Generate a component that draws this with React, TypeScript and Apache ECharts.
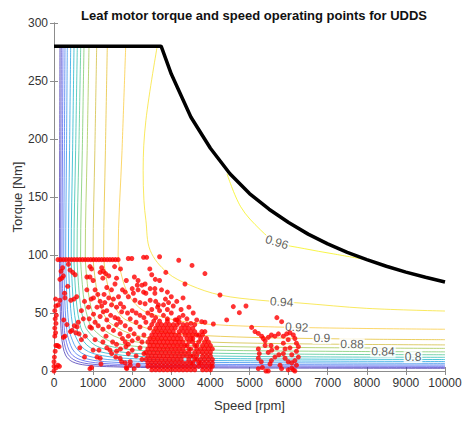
import React, { useEffect, useRef } from "react";
import * as echarts from "echarts";

// Axis ranges and ticks
const speedMax = 10000;
const speedStep = 1000;
const torqueMax = 300;
const torqueStep = 50;

// Peak torque / constant power envelope [rpm, Nm]
const envelope = [
  [0, 280], [2740, 280], [3000, 256], [3500, 219], [4000, 192], [4500, 170],
  [5000, 153], [5500, 139.5], [6000, 128], [6500, 118], [7000, 109.6],
  [7500, 102.3], [8000, 96], [8500, 90.3], [9000, 85.2], [9500, 80.8], [10000, 76.7],
];

// Efficiency iso-lines [rpm, Nm]
const eff96 = [[4425, 170], [4775, 141.6], [5285, 121.5], [5700, 111], [6400, 105.5], [7140, 101], [7900, 96.5]];
const eff94 = [[2640, 280], [2350, 216], [2280, 173], [2300, 147], [2350, 130], [2460, 104], [2890, 85], [3480, 74], [4250, 65.5], [5270, 61], [6290, 58.6], [8000, 54], [10000, 51.7]];
const eff92 = [[1834, 280], [1740, 190], [1640, 100], [1745, 80.2], [1886, 67.1], [2098, 57.2], [2378, 50.6], [3444, 42.0], [5494, 38.1], [10000, 36]];
const eff90 = [[1363, 280], [1315, 190], [1270, 100], [1351, 77.6], [1460, 62.7], [1624, 51.5], [1842, 44.1], [2667, 34.4], [4254, 29.9], [7430, 27.65], [10000, 27]];
const eff88 = [[1092, 280], [1045, 190], [1000, 100], [1064, 76.4], [1150, 60.6], [1279, 48.8], [1450, 40.9], [2100, 30.7], [3350, 25.9], [5850, 23.6], [10000, 22.5]];
const eff86 = [[895, 280], [848, 190], [800, 100], [851, 75.5], [920, 59.2], [1023, 47.0], [1160, 38.8], [1680, 28.2], [2680, 23.3], [4680, 20.9], [8680, 19.7], [10000, 19.5]];
const eff84 = [[767, 280], [724, 190], [680, 100], [724, 74.7], [782, 57.8], [870, 45.1], [986, 36.7], [1428, 25.7], [2278, 20.7], [3978, 18.1], [7378, 16.9], [10000, 16.5]];
const eff82 = [[683, 280], [636, 190], [590, 100], [628, 74.0], [678, 56.6], [755, 43.6], [856, 34.9], [1239, 23.6], [1977, 18.4], [3452, 15.8], [6402, 14.5], [10000, 14]];
const eff80 = [[596, 280], [553, 190], [510, 100], [543, 73.3], [587, 55.5], [652, 42.2], [740, 33.3], [1071, 21.8], [1709, 16.4], [2984, 13.8], [5534, 12.4], [10000, 11.8]];
const eff78 = [[512, 280], [476, 190], [440, 100], [468, 72.8], [506, 54.6], [563, 41.0], [638, 32.0], [924, 20.2], [1474, 14.7], [2574, 12.0], [4774, 10.6], [10000, 9.9]];
const eff76 = [[427, 280], [398, 190], [370, 100], [394, 72.3], [426, 53.8], [473, 40.0], [537, 30.8], [777, 18.8], [1240, 13.2], [2165, 10.4], [4015, 9.05], [10000, 8.2]];
const eff74 = [[340, 280], [320, 190], [300, 100], [319, 71.9], [345, 53.1], [384, 39.0], [435, 29.6], [630, 17.4], [1005, 11.8], [1755, 9.0], [3255, 7.6], [10000, 6.6]];
const eff72 = [[281, 280], [265, 190], [250, 100], [266, 71.5], [287, 52.4], [320, 38.1], [362, 28.6], [525, 16.3], [837, 10.5], [1462, 7.7], [2712, 6.3], [5212, 5.55], [10000, 5.2]];
const eff70 = [[230, 280], [217, 190], [205, 100], [218, 71.1], [236, 51.9], [262, 37.5], [297, 27.9], [430, 15.3], [687, 9.6], [1199, 6.7], [2224, 5.2], [4274, 4.5], [10000, 4.1]];
const eff68 = [[187, 280], [178, 190], [170, 100], [181, 70.9], [195, 51.4], [217, 36.9], [246, 27.1], [357, 14.5], [570, 8.7], [995, 5.8], [1845, 4.3], [3545, 3.6], [10000, 3.1]];
const eff66 = [[153, 280], [146, 190], [140, 100], [149, 70.6], [161, 51.0], [179, 36.4], [203, 26.6], [294, 13.8], [469, 8.0], [819, 5.0], [1519, 3.6], [2919, 2.8], [10000, 2.3]];

const effLevels = [0.96, 0.94, 0.92, 0.9, 0.88, 0.86, 0.84, 0.82, 0.8, 0.78, 0.76, 0.74, 0.72, 0.7, 0.68, 0.66];
const effLines = [eff96, eff94, eff92, eff90, eff88, eff86, eff84, eff82, eff80, eff78, eff76, eff74, eff72, eff70, eff68, eff66];

// In-line level labels: [rpm, Nm, text, rotation]
const effLabels: [number, number, string, number][] = [
  [5700, 111, "0.96", -18],
  [5823, 59.5, "0.94", -3],
  [6207, 37.7, "0.92", -2],
  [6854, 28.4, "0.9", -1],
  [7620, 23.2, "0.88", -1],
  [8414, 16.8, "0.84", -1],
  [9182, 12.0, "0.8", 0],
];

// UDDS operating points [rpm, Nm]
const opsRow = [
  [100, 96], [170, 96], [240, 96], [310, 96], [380, 96], [450, 96], [520, 96], [590, 96], [660, 96],
  [730, 96], [800, 96], [870, 96], [940, 96], [1010, 96], [1080, 96], [1150, 96], [1220, 96],
  [1290, 96], [1360, 96], [1430, 96], [1500, 96], [1570, 96], [1640, 96], [1900, 97], [1990, 97],
  [2290, 98], [2370, 98], [2700, 98.5],
];
const opsLowSpeed = [
  [0, 0], [0, 4], [0, 8], [10, 12], [30, 17], [50, 22], [90, 22], [130, 21], [20, 30], [40, 33],
  [20, 37], [50, 41], [30, 45], [60, 48], [20, 52], [50, 56], [110, 57], [150, 61], [40, 62],
  [280, 63], [270, 67], [150, 79], [200, 80], [240, 82], [180, 86], [220, 89], [370, 92], [410, 87],
  [480, 85], [540, 83], [250, 44], [240, 29], [280, 30], [420, 34], [460, 35], [520, 39], [590, 38],
  [60, 3], [100, 5], [140, 4], [430, 61], [510, 62], [580, 64], [640, 32], [620, 42], [560, 33],
  [700, 27], [660, 20], [330, 40], [350, 73],
];
const opsMid = [
  [750, 45], [840, 81], [920, 81], [920, 90], [960, 88], [800, 30], [880, 55], [950, 62], [1010, 63],
  [1180, 85], [1260, 86], [1220, 89], [1350, 72], [1470, 70], [1560, 75], [1180, 60], [1300, 59],
  [1470, 57], [1730, 51], [1010, 49], [1180, 47], [920, 38], [960, 37], [1130, 39], [1350, 44],
  [1520, 35], [1690, 32], [1820, 39], [1820, 25], [1840, 21], [1430, 18], [1475, 15], [1100, 12],
  [1180, 11], [1690, 11], [1730, 8], [1820, 7], [1600, 23], [1250, 25], [1900, 15], [1950, 5],
  [1860, 2], [1200, 6], [960, 3], [920, 2], [780, 12], [1650, 64], [1750, 70], [1850, 78], [1640, 45],
  [1400, 82], [1550, 90], [1700, 88], [2055, 81], [2150, 78], [2130, 74], [2250, 74], [2330, 75],
  [2000, 71], [2030, 67], [2150, 70], [2290, 68], [2350, 67], [1820, 68], [1900, 64], [2070, 61],
  [2200, 59], [2330, 58], [1050, 27], [1330, 30], [1580, 12], [1260, 51], [1000, 18],
  [1850, 3], [1950, 8], [2050, 2], [2150, 5], [2250, 10], [2300, 15], [2200, 20], [2100, 13],
  [2000, 18], [1900, 23], [2250, 25], [2150, 28], [2300, 31], [2050, 32], [1950, 36], [2200, 38],
  [2350, 42], [2100, 42],
  [1050, 70], [1120, 66], [1280, 66], [1400, 63], [1520, 62], [1600, 55], [1700, 58], [1780, 55],
  [1880, 50], [1950, 45], [1350, 52], [1450, 48], [1560, 46], [1100, 55], [1220, 56], [840, 70],
  [780, 60], [700, 52], [900, 45], [1050, 42], [1250, 36], [1400, 38], [1600, 40], [1700, 42],
  [1750, 28], [1500, 25], [1350, 20], [1150, 18], [1600, 17], [1700, 19], [1900, 30], [2000, 26],
  [1250, 80], [1320, 84], [1600, 80], [1000, 78],
];
const opsUpper = [
  [2460, 71], [2580, 71], [2580, 67], [2590, 79], [2460, 61], [2670, 57], [2800, 57], [2930, 59],
  [3140, 60], [2860, 85], [3350, 75], [3190, 95.5], [3530, 91], [3860, 84], [4245, 65.5], [4586, 55.5],
  [4740, 50.3], [4910, 56], [4416, 44], [4075, 40.5], [3777, 42.5], [3560, 50], [3860, 42],
  [2000, 52], [2100, 50], [2200, 48], [2300, 46], [2400, 50], [2500, 48], [2600, 46], [2700, 52],
  [2800, 48], [2900, 45], [3000, 50], [3100, 44], [3200, 46], [3300, 48], [3400, 45], [3140, 44],
  [2500, 53], [2650, 55], [2900, 53], [3050, 56], [3250, 53],
  [2450, 88], [2500, 83], [2700, 78], [2750, 70], [2900, 68], [3000, 64], [2850, 62], [3300, 63],
  [3450, 55], [2600, 60],
  [2550, 43], [2700, 43], [2900, 43], [3200, 42], [3500, 41], [3650, 44],
];
const opsCore = [
  [2500, 1], [2600, 1], [2700, 1], [2800, 1], [2900, 1], [3000, 1], [3100, 1], [3200, 1], [3300, 1], [3400, 1], [3500, 1], [3800, 1], [3900, 1], [4000, 1],
  [2400, 4], [2500, 4], [2600, 4], [2700, 4], [2800, 4], [2900, 4], [3000, 4], [3100, 4], [3200, 4], [3300, 4], [3600, 4], [3700, 4], [3800, 4], [3900, 4], [4000, 4], [4050, 4],
  [2400, 7], [2500, 7], [2600, 7], [2700, 7], [2800, 7], [2900, 7], [3000, 7], [3100, 7], [3200, 7], [3300, 7], [3400, 7], [3500, 7], [3750, 7], [3850, 7], [3950, 7], [4050, 7],
  [2350, 10], [2450, 10], [2550, 10], [2650, 10], [2750, 10], [2850, 10], [2950, 10], [3050, 10], [3150, 10], [3250, 10], [3450, 10], [3650, 10], [3750, 10], [3850, 10], [3950, 10], [4050, 10],
  [2400, 13], [2500, 13], [2600, 13], [2700, 13], [2800, 13], [2900, 13], [3000, 13], [3100, 13], [3200, 13], [3300, 13], [3400, 13], [3550, 13], [3800, 13], [3900, 13], [4000, 13],
  [2350, 16], [2450, 16], [2550, 16], [2650, 16], [2750, 16], [2850, 16], [2950, 16], [3050, 16], [3150, 16], [3250, 16], [3350, 16], [3700, 16], [3800, 16], [3900, 16], [4000, 16],
  [2400, 19], [2500, 19], [2600, 19], [2700, 19], [2800, 19], [2900, 19], [3000, 19], [3100, 19], [3200, 19], [3300, 19], [3500, 19], [3750, 19], [3850, 19], [3950, 19], [4050, 19],
  [2450, 22], [2550, 22], [2650, 22], [2750, 22], [2850, 22], [2950, 22], [3050, 22], [3150, 22], [3250, 22], [3400, 22], [3600, 22], [3800, 22], [3900, 22], [4000, 22],
  [2400, 25], [2500, 25], [2600, 25], [2700, 25], [2800, 25], [2900, 25], [3000, 25], [3100, 25], [3200, 25], [3300, 25], [3450, 25], [3700, 25], [3850, 25], [3950, 25],
  [2450, 28], [2550, 28], [2650, 28], [2750, 28], [2850, 28], [2950, 28], [3050, 28], [3150, 28], [3250, 28], [3550, 28], [3750, 28], [3900, 28],
  [2500, 31], [2600, 31], [2700, 31], [2800, 31], [2900, 31], [3000, 31], [3100, 31], [3200, 31], [3350, 31], [3650, 31], [3800, 31],
  [2550, 34], [2650, 34], [2750, 34], [2850, 34], [2950, 34], [3050, 34], [3200, 34], [3300, 34], [3400, 34], [3500, 34], [3780, 34], [3860, 34],
  [2600, 37], [2700, 37], [2800, 37], [2900, 37], [3000, 37], [3250, 37], [3350, 37], [3450, 37],
  [2650, 40], [2750, 40], [2850, 40], [3050, 40], [3150, 40], [3300, 40],
  [3400, 4], [3500, 4], [3450, 16], [3550, 7], [3600, 10], [3650, 13], [3450, 19], [3600, 16],
  [3550, 25], [3650, 22], [3400, 28], [3600, 1], [3700, 7], [3650, 19], [3500, 13], [3350, 22],
  [3500, 28], [3700, 31], [3550, 31], [3600, 34], [3450, 31],
  [2450, 37], [2500, 40], [3100, 37], [3550, 37], [2950, 40], [3400, 40], [3600, 40],
];
const opsHighSpeed = [
  [5055, 37.6], [5140, 34], [5226, 32.4], [5311, 30], [5354, 28], [5400, 26], [5480, 29], [5560, 31],
  [5650, 30], [5740, 32], [5822, 42.5], [5700, 46], [5865, 30], [5950, 32], [6035, 33], [6120, 31],
  [6160, 28], [6200, 24], [6250, 21], [6200, 17], [6250, 12], [6160, 9], [6200, 5], [6120, 1],
  [5865, 24], [5910, 19], [5865, 15], [5910, 11], [5990, 8], [6080, 7], [6035, 20], [6080, 14],
  [5990, 27], [5550, 22], [5570, 18], [5650, 12], [5560, 9], [5524, 6], [5226, 19], [5250, 15],
  [5226, 11], [5300, 8], [5226, 2], [5330, 3], [5480, 0], [5420, 0], [5990, 1], [6080, 2.5],
  [6160, 0], [5400, 22], [5480, 16], [5700, 20], [5750, 14], [5780, 5], [5820, 2],
];

// parula-like colors from high to low efficiency
const effColors = [
  "#f5f20c", "#f7e22a", "#f9c93a", "#e6bf2e", "#d0bb38", "#a2c64c", "#74c866", "#48c48f",
  "#28bcae", "#12b0c8", "#1aa0e0", "#2a8aea", "#3a70ef", "#4a55ee", "#4840cc", "#4030b0",
];

export default function App() {
  const ref = useRef<HTMLDivElement>(null);

  useEffect(() => {
    if (!ref.current) return;
    const chart = echarts.init(ref.current, undefined, { renderer: "svg" });

    const axisColor = "#8c8c8c";
    const labelColor = "#333";
    const font = "'Liberation Sans', Arial, sans-serif";

    const contourSeries = effLines.map((pts, i) => ({
      type: "line",
      name: String(effLevels[i]),
      data: pts,
      smooth: 0.35,
      symbol: "none",
      silent: true,
      z: 2,
      lineStyle: { color: effColors[i], width: 1, opacity: 0.75 },
    }));

    const opsAll = [...opsRow, ...opsLowSpeed, ...opsMid, ...opsUpper, ...opsCore, ...opsHighSpeed];

    const plainNumber = (v: number) => String(v);

    chart.setOption({
      animation: false,
      title: {
        text: "Leaf motor torque and speed operating points for UDDS",
        left: 249,
        top: 4,
        textAlign: "center",
        textStyle: { fontFamily: font, fontSize: 13, fontWeight: "bold", color: "#111" },
      },
      grid: { left: 54, right: 20, top: 23, bottom: 50, outerBoundsMode: "none", containLabel: false },
      xAxis: [
        {
          type: "value",
          min: 0,
          max: speedMax,
          interval: speedStep,
          position: "bottom",
          name: "Speed [rpm]",
          nameLocation: "middle",
          nameGap: 28,
          nameTextStyle: { fontFamily: font, fontSize: 13, color: labelColor },
          axisLine: { show: true, lineStyle: { color: axisColor, width: 1 } },
          axisTick: { show: true, inside: true, length: 4, lineStyle: { color: axisColor } },
          axisLabel: { color: labelColor, fontFamily: font, fontSize: 12, margin: 6, formatter: plainNumber },
          splitLine: { show: false },
        },
        {
          type: "value",
          min: 0,
          max: speedMax,
          interval: speedStep,
          position: "top",
          axisLine: { show: true, lineStyle: { color: axisColor, width: 1 } },
          axisTick: { show: true, inside: true, length: 4, lineStyle: { color: axisColor } },
          axisLabel: { show: false },
          splitLine: { show: false },
        },
      ],
      yAxis: [
        {
          type: "value",
          min: 0,
          max: torqueMax,
          interval: torqueStep,
          position: "left",
          name: "Torque [Nm]",
          nameLocation: "middle",
          nameGap: 30,
          nameMoveOverlap: false,
          nameTextStyle: { fontFamily: font, fontSize: 13, color: labelColor },
          axisLine: { show: true, lineStyle: { color: axisColor, width: 1 } },
          axisTick: { show: true, inside: true, length: 4, lineStyle: { color: axisColor } },
          axisLabel: { color: labelColor, fontFamily: font, fontSize: 12, margin: 6, formatter: plainNumber },
          splitLine: { show: false },
        },
        {
          type: "value",
          min: 0,
          max: torqueMax,
          interval: torqueStep,
          position: "right",
          axisLine: { show: true, lineStyle: { color: axisColor, width: 1 } },
          axisTick: { show: true, inside: true, length: 4, lineStyle: { color: axisColor } },
          axisLabel: { show: false },
          splitLine: { show: false },
        },
      ],
      series: [
        ...contourSeries,
        {
          type: "scatter",
          name: "levels",
          silent: true,
          z: 3,
          symbolSize: 0,
          data: effLabels.map(([n, t, txt, rot]) => ({
            value: [n, t],
            label: {
              show: true,
              formatter: txt,
              rotate: rot,
              position: "inside",
              fontFamily: font,
              fontSize: 12,
              color: "#333",
              backgroundColor: "#ffffff",
              padding: [0, 1],
            },
          })),
        },
        {
          type: "line",
          name: "envelope",
          data: envelope,
          symbol: "none",
          silent: true,
          z: 4,
          lineStyle: { color: "#000", width: 3.5 },
        },
        {
          type: "scatter",
          name: "UDDS",
          data: opsAll,
          symbol: "circle",
          symbolSize: 5,
          silent: true,
          z: 5,
          itemStyle: { color: "#ff0000" },
        },
      ],
    });

    return () => chart.dispose();
  }, []);

  return (
    <div
      ref={ref}
      style={{ position: "fixed", left: 0, top: 0, width: 465, height: 421, background: "#fff" }}
    />
  );
}
